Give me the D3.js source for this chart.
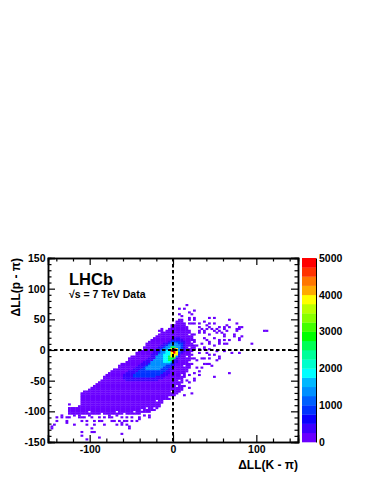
<!DOCTYPE html>
<html>
<head>
<meta charset="utf-8">
<script src="https://cdn.jsdelivr.net/npm/d3@7"></script>
<style>
  html, body { margin: 0; padding: 0; background: #fff; }
  text { font-family: "Liberation Sans", Arial, sans-serif; font-weight: bold; fill: #000; }
</style>
</head>
<body>
<div id="chart"></div>
<script>
var xMajor = [-100, 0, 100];
var xMinor = [-140, -120, -80, -60, -40, -20, 20, 40, 60, 80, 120, 140];
var yMajor = [-150, -100, -50, 0, 50, 100, 150];
var yMinor = [-140, -130, -120, -110, -90, -80, -70, -60, -40, -30, -20, -10, 10, 20, 30, 40, 60, 70, 80, 90, 110, 120, 130, 140];
var zTicks = [0, 1000, 2000, 3000, 4000, 5000];

var palette = ["#6a00ff", "#3c00ff", "#0a00ff", "#0033ff", "#0060ff", "#0090ff", "#00b8ff", "#00ffff", "#00ffcc", "#00ff99",
               "#00ff55", "#00ff00", "#44ff00", "#88ff00", "#bbff00", "#ffff00", "#ffaa00", "#ff7700", "#ff3300", "#ff0000"];

// main body of the histogram, one span per row of bins
var bodyY     = [48, 45, 42, 39, 36, 33, 30, 27, 24, 21, 18, 15, 12, 9, 6, 3, 0, -3, -6, -9, -12, -15, -18, -21, -24, -27, -30, -33, -36, -39, -42, -45, -48, -51, -54, -57, -60, -63, -66, -69, -72, -75, -78, -81, -84, -87, -90, -93, -96, -99, -102, -105];
var bodyLeft  = [6, 3, 3, -3, -3, -6, -9, -15, -18, -21, -24, -27, -30, -33, -33, -36, -36, -42, -45, -45, -51, -54, -54, -57, -63, -66, -66, -72, -75, -78, -81, -84, -84, -87, -90, -93, -96, -99, -102, -108, -111, -111, -111, -111, -111, -111, -114, -114, -126, -126, -126, -126];
var bodyRight = [9, 9, 12, 12, 15, 15, 18, 18, 21, 21, 21, 21, 24, 21, 24, 24, 24, 21, 21, 21, 18, 21, 18, 18, 18, 18, 15, 15, 15, 12, 12, 12, 9, 9, 9, 6, 9, 9, 9, 6, 3, 0, -9, -9, -15, -15, -18, -18, -21, -24, -30, -42];

// empty bins inside the body
var holeX = [15, 12, 18, 21, 18, 21, 15, 12, 18, 9, 6, 3, -3, -21, -24, -102, -87, -69, -60, -48, -39, -33, -90, -114, -3];
var holeY = [39, 45, 24, 12, 3, -6, -12, -27, -21, -42, -51, -60, -69, -84, -96, -102, -105, -102, -105, -102, -99, -96, -105, -90, 45];

// denser region around the origin
var coreY     = [-51, -48, -45, -42, -39, -36, -33, -30, -27, -24, -21, -18, -15, -12, -9, -6, -3, 0, 3, 6, 9, 12, 15, 18,
                 -45, -42, -39, -36, -33, -30, -27, -24, -21, -18, -15, -12, -9, -6, -3, 0, 3, 6, 9, 12,
                 -33, -30, -27, -24, -21, -18, -15, -12, -9, -6, -3, 0, 3, 6, 9,
                 -21, -18, -15, -12, -9, -6, -3, 0,
                 -18, -15, -12, -9, -6, -3, 0, 3,
                 -12, -9, -6, -3, 0,
                 -6, -3, 0];
var coreLeft  = [-57, -60, -60, -60, -57, -54, -48, -45, -42, -39, -36, -33, -30, -27, -27, -24, -24, -21, -18, -15, -12, -6, -3, 0,
                 -48, -48, -45, -42, -39, -36, -33, -30, -27, -24, -21, -21, -18, -18, -15, -15, -12, -9, -6, -3,
                 -33, -33, -30, -27, -27, -24, -21, -21, -18, -15, -15, -12, -9, -6, -3,
                 -12, -12, -12, -12, -12, -9, -9, -6,
                 -6, -6, -6, -3, -3, -3, -3, -3,
                 -3, -3, -3, -3, -3,
                 0, -3, 0];
var coreRight = [-21, -15, -12, -9, -6, -6, -3, -3, 0, 0, 3, 3, 3, 6, 6, 9, 12, 12, 12, 12, 12, 12, 9, 6,
                 -24, -18, -15, -12, -9, -6, -6, -3, -3, -3, 0, 0, 3, 6, 6, 9, 9, 9, 9, 6,
                 -18, -15, -12, -6, -3, -3, 0, 3, 3, 3, 6, 6, 6, 6, 3,
                 -6, -3, 0, 0, 0, 3, 3, 3,
                 -3, 0, 0, 3, 3, 3, 3, 0,
                 0, 3, 3, 3, 3,
                 0, 0, 0];
var coreCount = [300, 300, 300, 300, 300, 300, 300, 300, 300, 300, 300, 300, 300, 300, 300, 300, 300, 300, 300, 300, 300, 300, 300, 300,
                 800, 800, 800, 800, 800, 800, 800, 800, 800, 800, 800, 800, 800, 800, 800, 800, 800, 800, 800, 800,
                 1400, 1400, 1400, 1400, 1400, 1400, 1400, 1400, 1400, 1400, 1400, 1400, 1400, 1400, 1400,
                 1800, 1800, 1800, 1800, 1800, 1800, 1800, 1800,
                 2700, 2700, 2700, 2700, 2700, 2700, 2700, 2700,
                 3900, 3900, 3900, 3900, 3900,
                 4800, 4800, 4800];

// isolated bins outside the main body
var strayX = [16, 7, 13, 24, 22, 18, 7, 10, 8, 20, 25, 44, 50, 37, 42, 48, 68, 76, 82, 78, 64, 61, 54, 40, 44, 48, 68, 76, 80, 32, 30, 36, 42, 52, 58, 64, 72, 80, 82, 108, 111, 94, 62, 48, 36, 42, 54, 64, 34, 28, 48, 56, 38, 52, 60, 70, 80, 32, 42, 48, 54, 34, 44, 52, 38, 35, 46, 28, 32, 50, 67, 24, 26, 20, 18, 14, 8, 2, 12, 22, -12, -14, -20, -6, -28, -34, -40, -50, -58, -62, -54, -68, -68, -76, -82, -88, -88, -100, -110, -114, -120, -127, -135, -141, -143, -147, -145, -133, -96, -110, -90, -103, -62, -72, -124, -120,
              -18, -15, -15, 20, 26, 20, 23, 26, 30, 34, 40, 46, 52, 62, 78, 30, 38, 56, 76, 26, 60, 72, 24, 40, 56, 60, 68, 78, 44, 56, 62, 32, 36, 42, 30, 40, 26, 36, 56, 22, 40, 44, 20, 28, 34, 20, 32, 16, 24,
              -139, -129, -125, -113, -107, -99, -89, -77, -73, -63, -57, -49, -40, -30, -127, -111, -105, -95, -85, -73, -65, -55, -51, -43, -119, -103, -95, -83, -61, -57, -97, -53, -109, -97];
var strayY = [73, 68, 66, 65, 59, 60, 58, 54, 50, 51, 51, 52, 53, 45, 44, 44, 48, 43, 38, 38, 40, 38, 38, 40, 36, 32, 36, 33, 33, 36, 28, 28, 25, 28, 28, 30, 22, 20, 22, 32, 32, 10, 22, 20, 18, 14, 14, 11, 9, 6, 6, 9, 3, -2, -2, -5, -5, -5, -8, -8, -10, -13, -15, -18, -24, -29, -27, -18, -35, -43, -38, -38, -46, -54, -62, -59, -66, -73, -74, -72, -78, -87, -95, -81, -107, -108, -112, -111, -116, -119, -125, -122, -108, -106, -111, -103, -116, -106, -111, -108, -106, -119, -111, -116, -122, -129, -125, -108, -133, -141, -142, -147, -137, -116, -90, -95,
              30, 30, 33, 49, 49, 42, 42, 42, 42, 35, 35, 35, 35, 35, 35, 30, 30, 30, 30, 24, 24, 24, 16, 16, 16, 16, 16, 16, 11, 11, 11, 0, 0, 0, -5, -5, -14, -14, -14, -22, -22, -22, -30, -30, -30, -41, -41, -49, -49,
              -111, -111, -111, -111, -111, -111, -111, -111, -111, -111, -111, -111, -111, -111, -117, -117, -117, -117, -117, -117, -117, -117, -117, -117, -122, -122, -122, -122, -122, -122, -128, -128, -133, -133];

var W = 371, H = 480;
var left = 48, right = 298, top_ = 258, bottom = 442;
var binSize = 3;

var x = d3.scaleLinear().domain([-150, 150]).range([left, right]);
var y = d3.scaleLinear().domain([-150, 150]).range([bottom, top_]);
var zPos = d3.scaleLinear().domain([0, 5000]).range([bottom, top_]);
var color = d3.scaleQuantize().domain([0, 5000]).range(palette);

function snap(v) { return Math.floor(v / binSize) * binSize; }

// fill bins from the spans, later spans overriding earlier ones
var bins = new Map();
function setBin(bx, by, n) { bins.set(bx + "," + by, {x: bx, y: by, n: n}); }
function addSpans(ys, lefts, rights, count) {
  ys.forEach(function(row, i) {
    for (var bx = lefts[i]; bx <= rights[i]; bx += binSize) {
      setBin(bx, row, count ? count[i] : 100);
    }
  });
}
addSpans(bodyY, bodyLeft, bodyRight);
holeX.forEach(function(v, i) { bins.delete(v + "," + holeY[i]); });
strayX.forEach(function(v, i) { setBin(snap(v), snap(strayY[i]), 100); });
addSpans(coreY, coreLeft, coreRight, coreCount);

var svg = d3.select("#chart").append("svg")
  .attr("width", W)
  .attr("height", H)
  .style("display", "block");

svg.append("g")
  .selectAll("rect")
  .data(Array.from(bins.values()))
  .enter()
  .append("rect")
  .attr("x", function(d) { return x(d.x); })
  .attr("y", function(d) { return y(d.y + binSize); })
  .attr("width", x(binSize) - x(0) + 0.3)
  .attr("height", y(0) - y(binSize) + 0.3)
  .attr("fill", function(d) { return color(d.n); });

// dashed lines through the origin
svg.append("line")
  .attr("x1", x(-150)).attr("x2", x(150)).attr("y1", y(0)).attr("y2", y(0))
  .attr("stroke", "#000").attr("stroke-width", 2).attr("stroke-dasharray", "3.5,2.5");
svg.append("line")
  .attr("x1", x(0)).attr("x2", x(0)).attr("y1", y(150)).attr("y2", y(-150))
  .attr("stroke", "#000").attr("stroke-width", 2).attr("stroke-dasharray", "3.5,2.5");

function styleAxis(g) {
  g.selectAll("path").attr("stroke", "#000").attr("stroke-width", 1.5);
  g.selectAll("line").attr("stroke", "#000").attr("stroke-width", 1.2);
  g.selectAll("text").style("font-size", "10.5px");
}

// ROOT style ticks point into the frame, on all four sides
function frameAxis(make, scale, pos, major, minor, labels, isX) {
  var t = "translate(" + (isX ? "0," + pos : pos + ",0") + ")";
  var a = svg.append("g").attr("transform", t)
    .call(make(scale).tickValues(major).tickSize(-7).tickFormat(labels ? d3.format("d") : "").tickPadding(isX ? 4 : 2.5));
  var b = svg.append("g").attr("transform", t)
    .call(make(scale).tickValues(minor).tickSize(-3.5).tickFormat(""));
  styleAxis(a);
  styleAxis(b);
  a.selectAll("text").text(function(d) { return labels ? d : ""; });
}

frameAxis(d3.axisBottom, x, bottom, xMajor, xMinor, true, true);
frameAxis(d3.axisTop, x, top_, xMajor, xMinor, false, true);
frameAxis(d3.axisLeft, y, left, yMajor, yMinor, true, false);
frameAxis(d3.axisRight, y, right, yMajor, yMinor, false, false);

// colour bar
var barX = 302, barW = 14;
var levels = d3.range(palette.length).map(function(i) { return i * 5000 / palette.length; });
svg.append("g")
  .selectAll("rect")
  .data(levels)
  .enter()
  .append("rect")
  .attr("x", barX)
  .attr("width", barW)
  .attr("y", function(d) { return zPos(d + 250); })
  .attr("height", zPos(0) - zPos(250) + 0.3)
  .attr("fill", function(d) { return color(d + 1); });

var zAxis = svg.append("g").attr("transform", "translate(" + (barX + barW) + ",0)")
  .call(d3.axisRight(zPos).tickValues(zTicks).tickSize(0).tickPadding(3).tickFormat(d3.format("d")));
styleAxis(zAxis);
zAxis.select("path").attr("stroke-width", 1);

// labels
svg.append("text").attr("x", 69).attr("y", 285).style("font-size", "16.5px").text("LHCb");
svg.append("text").attr("x", 69).attr("y", 298).style("font-size", "10.5px").text("√s = 7 TeV Data");
svg.append("text").attr("x", 298).attr("y", 469).attr("text-anchor", "end").style("font-size", "12px").text("ΔLL(K - π)");
svg.append("text").attr("transform", "translate(20,258) rotate(-90)").attr("text-anchor", "end").style("font-size", "12px").text("ΔLL(p - π)");
</script>
</body>
</html>
